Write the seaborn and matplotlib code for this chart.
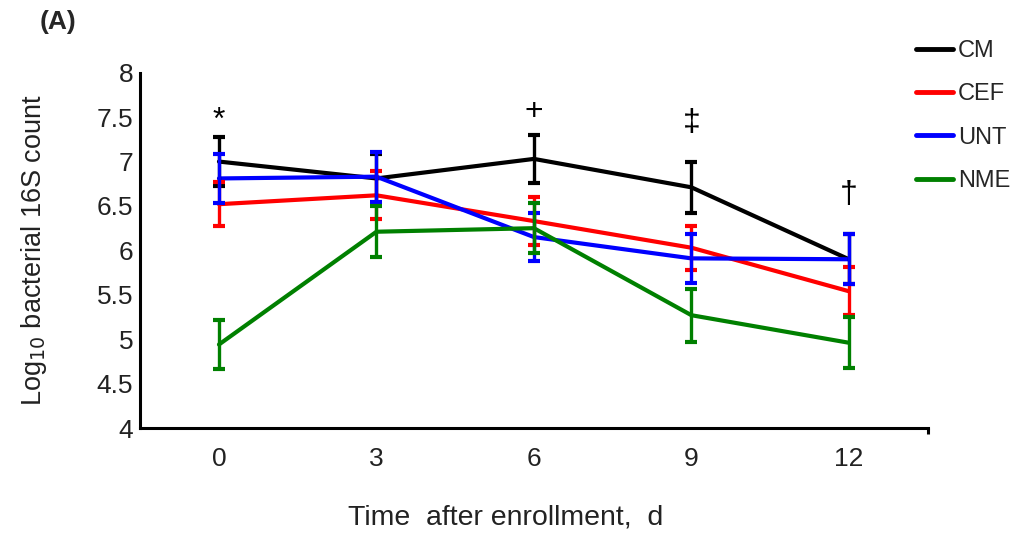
import numpy as np
import pandas as pd
import matplotlib
matplotlib.use("Agg")
import matplotlib.pyplot as plt
import seaborn as sns

# DATA
days = [0, 3, 6, 9, 12]
groups = ["CM", "CEF", "UNT", "NME"]
colors = ["#000000", "#ff0000", "#0000ff", "#008000"]

cm_mean  = [7.00, 6.81, 7.03, 6.71, 5.90]
cm_err   = [0.28, 0.28, 0.27, 0.29, 0.28]
cef_mean = [6.52, 6.62, 6.33, 6.03, 5.54]
cef_err  = [0.25, 0.27, 0.27, 0.25, 0.27]
unt_mean = [6.81, 6.83, 6.15, 5.91, 5.90]
unt_err  = [0.28, 0.28, 0.27, 0.28, 0.28]
nme_mean = [4.94, 6.21, 6.25, 5.27, 4.96]
nme_err  = [0.28, 0.29, 0.28, 0.30, 0.29]

sig_days   = [0, 6, 9, 12]
sig_labels = ["*", "+", "\u2021", "\u2020"]
sig_pad_px = [8, 15, 31, 31]   # baseline gap above CM error bar, pixels

means = [cm_mean, cef_mean, unt_mean, nme_mean]
errs = [cm_err, cef_err, unt_err, nme_err]

df = pd.concat([
    pd.DataFrame({"day": days, "value": m, "err": e, "group": g})
    for g, m, e in zip(groups, means, errs)
], ignore_index=True)

sns.set_theme(style="white")
plt.rcParams["font.family"] = ["Liberation Sans", "DejaVu Sans"]

fig = plt.figure(figsize=(10.16, 5.35), dpi=100)
ax = fig.add_axes([0.138, 0.2, 0.775, 0.664])

palette = dict(zip(groups, colors))
sns.lineplot(data=df, x="day", y="value", hue="group", hue_order=groups,
             palette=palette, linewidth=3, ax=ax, legend=True, sort=False)

for g in groups:
    sub = df[df["group"] == g]
    ax.errorbar(sub["day"], sub["value"], yerr=sub["err"], fmt="none",
                ecolor=palette[g], elinewidth=2.4, capsize=4, capthick=3)

# significance marks above CM error bars
cm = df[df["group"] == "CM"].set_index("day")
for d, lab, pad in zip(sig_days, sig_labels, sig_pad_px):
    top = cm.loc[d, "value"] + cm.loc[d, "err"]
    ax.annotate(lab, (d, top), xytext=(0, pad * 0.72), textcoords="offset points",
                ha="center", va="baseline", fontsize=23, color="black")

ax.set_xlim(-1.5, 13.5)
ax.set_ylim(4, 8)
ax.set_xticks(days)
ax.set_xticks([13.5], minor=True)
ax.set_yticks(np.arange(4, 8.01, 0.5))
ax.set_yticklabels(["4", "4.5", "5", "5.5", "6", "6.5", "7", "7.5", "8"])

for s in ["top", "right"]:
    ax.spines[s].set_visible(False)
for s in ["left", "bottom"]:
    ax.spines[s].set_linewidth(2.2)
    ax.spines[s].set_color("black")

ax.tick_params(axis="both", which="both", direction="out", length=4, width=2.2,
               color="black", labelsize=19, labelcolor="#222222", pad=1)
ax.tick_params(axis="x", pad=10)
ax.tick_params(axis="x", which="minor", bottom=True, length=4, width=2.2)

ax.set_xlabel("Time  after enrollment,  d", fontsize=20.5, color="#222222")
ax.xaxis.set_label_coords(0.464, -0.214)
ax.set_ylabel("Log$_{10}$ bacterial 16S count", fontsize=19.5, labelpad=34, color="#222222")

leg = ax.legend(loc="upper left", bbox_to_anchor=(0.902, 0.925),
                bbox_transform=fig.transFigure, frameon=False, fontsize=17,
                handlelength=1.55, handletextpad=0.2, labelspacing=0.9,
                borderpad=0, borderaxespad=0)
for line in leg.get_lines():
    line.set_linewidth(3.5)

fig.text(0.039, 0.958, "(A)", fontsize=19, fontweight="bold", va="center")

fig.savefig("out.png", dpi=100)
